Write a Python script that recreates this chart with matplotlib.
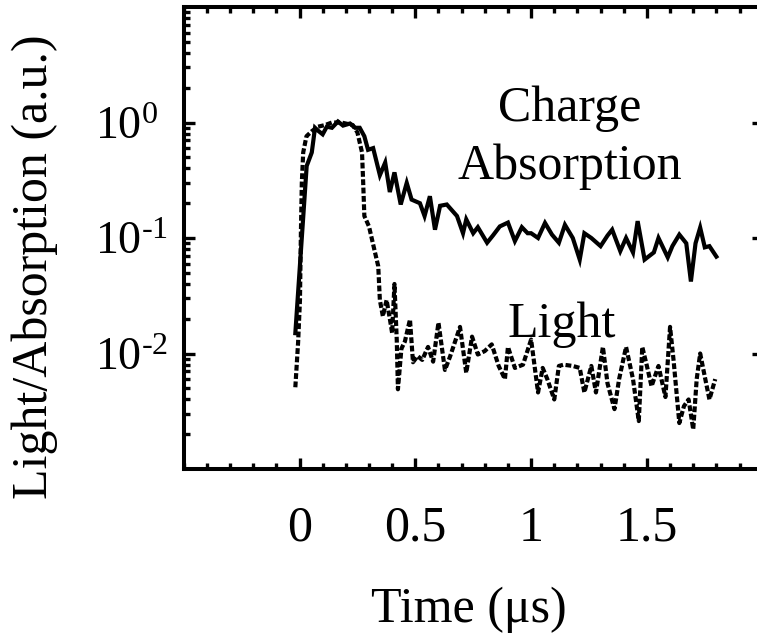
import matplotlib
matplotlib.use("Agg")
import matplotlib.pyplot as plt
from matplotlib.ticker import FixedLocator, MultipleLocator, LogLocator, NullFormatter

# ---- data ----
charge_t = [-0.018, 0.031, 0.053, 0.067, 0.080, 0.100, 0.118, 0.140, 0.166, 0.188, 0.218, 0.240, 0.260, 0.280,
            0.296, 0.318, 0.347, 0.370, 0.390, 0.410, 0.437, 0.463, 0.484, 0.520, 0.540, 0.563, 0.585, 0.607,
            0.636, 0.680, 0.706, 0.720, 0.750, 0.770, 0.810, 0.835, 0.865, 0.900, 0.930, 0.960, 0.985, 1.000,
            1.030, 1.060, 1.090, 1.120, 1.146, 1.180, 1.210, 1.230, 1.260, 1.300, 1.330, 1.350, 1.385, 1.410,
            1.440, 1.460, 1.490, 1.530, 1.550, 1.590, 1.610, 1.640, 1.670, 1.690, 1.710, 1.730, 1.750, 1.770, 1.800]
charge_v = [0.015, 0.42, 0.55, 0.90, 0.85, 0.79, 0.92, 0.90, 1.02, 0.94, 0.98, 0.90, 0.90, 0.76,
            0.58, 0.60, 0.35, 0.45, 0.25, 0.37, 0.195, 0.30, 0.215, 0.20, 0.155, 0.23, 0.118, 0.19,
            0.195, 0.155, 0.11, 0.145, 0.11, 0.124, 0.091, 0.105, 0.126, 0.136, 0.094, 0.124, 0.11, 0.11,
            0.10, 0.135, 0.107, 0.091, 0.13, 0.10, 0.065, 0.11, 0.10, 0.085, 0.105, 0.118, 0.077, 0.10,
            0.075, 0.14, 0.065, 0.075, 0.10, 0.068, 0.085, 0.107, 0.09, 0.042, 0.09, 0.123, 0.083, 0.085, 0.069]

light_t = [-0.018, -0.006, 0.002, 0.006, 0.010, 0.016, 0.030, 0.053, 0.080, 0.110, 0.140, 0.180, 0.230, 0.250,
           0.270, 0.275, 0.280, 0.300, 0.326, 0.340, 0.347, 0.360, 0.376, 0.390, 0.400, 0.410, 0.420, 0.425,
           0.440, 0.455, 0.477, 0.490, 0.510, 0.530, 0.555, 0.577, 0.600, 0.628, 0.650, 0.693, 0.720, 0.745,
           0.770, 0.800, 0.830, 0.860, 0.887, 0.900, 0.930, 0.965, 1.000, 1.030, 1.050, 1.070, 1.100, 1.120,
           1.140, 1.180, 1.210, 1.230, 1.260, 1.280, 1.310, 1.330, 1.360, 1.380, 1.410, 1.440, 1.465, 1.480,
           1.500, 1.520, 1.550, 1.580, 1.600, 1.615, 1.640, 1.660, 1.680, 1.700, 1.715, 1.730, 1.750, 1.770, 1.795]
light_v = [0.0051, 0.0125, 0.029, 0.11, 0.30, 0.55, 0.76, 0.84, 0.92, 0.95, 1.0, 1.0, 0.95, 0.82,
           0.55, 0.30, 0.155, 0.126, 0.075, 0.057, 0.029, 0.021, 0.029, 0.020, 0.015, 0.040, 0.013, 0.0049,
           0.011, 0.0127, 0.0197, 0.0084, 0.0095, 0.0088, 0.0114, 0.0085, 0.0185, 0.0072, 0.0094, 0.017, 0.0068, 0.014,
           0.0098, 0.0105, 0.012, 0.0078, 0.006, 0.0114, 0.0075, 0.008, 0.0132, 0.0046, 0.0075, 0.006, 0.004, 0.0078,
           0.008, 0.0078, 0.0075, 0.0046, 0.0078, 0.0046, 0.0114, 0.0055, 0.0033, 0.006, 0.0114, 0.006, 0.0026, 0.0114,
           0.0078, 0.0052, 0.0078, 0.0042, 0.017, 0.0088, 0.0025, 0.0035, 0.004, 0.0022, 0.006, 0.010, 0.0063, 0.004, 0.006]

x_ticks = [0, 0.5, 1, 1.5]
x_ticklabels = ["0", "0.5", "1", "1.5"]
y_ticks = [1e-2, 1e-1, 1e0]
y_ticklabels = [r"$10^{\text{-}2}$", r"$10^{\text{-}1}$", r"$10^{0}$"]

# ---- style ----
plt.rcParams["font.family"] = ["Liberation Serif", "DejaVu Serif"]
plt.rcParams["mathtext.fontset"] = "custom"
plt.rcParams["mathtext.rm"] = "Liberation Serif"
plt.rcParams["mathtext.it"] = "Liberation Serif:italic"
plt.rcParams["mathtext.bf"] = "Liberation Serif:bold"
plt.rcParams["mathtext.default"] = "regular"

W, H = 757, 636
fig = plt.figure(figsize=(W / 100, H / 100), dpi=100)
left_px, right_px, top_px, bot_px = 183.7, 762.7, 7.0, 469.0
ax = fig.add_axes([left_px / W, 1 - bot_px / H, (right_px - left_px) / W, (bot_px - top_px) / H])

ax.plot(charge_t, charge_v, color="black", lw=3.0, solid_joinstyle="miter")
ax.plot(light_t, light_v, color="black", lw=3.0, linestyle=(0, (1.4, 0.6)))

ax.set_yscale("log")
ax.set_xlim(-0.5, 2.0)
ax.set_ylim(1e-3, 1e1)

ax.xaxis.set_major_locator(FixedLocator(x_ticks))
ax.set_xticklabels(x_ticklabels)
ax.xaxis.set_minor_locator(MultipleLocator(0.1))
ax.yaxis.set_major_locator(FixedLocator(y_ticks))
ax.set_yticklabels(y_ticklabels)
ax.yaxis.set_minor_locator(LogLocator(base=10, subs=range(2, 10), numticks=20))
ax.yaxis.set_minor_formatter(NullFormatter())

for s in ax.spines.values():
    s.set_linewidth(2.9)

ax.tick_params(axis="both", which="both", direction="in", width=2.4, colors="black")
ax.tick_params(axis="both", which="major", length=8)
ax.tick_params(axis="both", which="minor", length=4.5)
ax.tick_params(axis="x", which="both", top=True, bottom=True)
ax.tick_params(axis="y", which="major", left=True, right=True)
ax.tick_params(axis="y", which="minor", left=True, right=False)
ax.tick_params(axis="x", which="major", labelsize=36, pad=26)
ax.tick_params(axis="y", which="major", labelsize=33, pad=64)
for lab in ax.get_yticklabels():
    lab.set_horizontalalignment("left")

ax.text(1.168, 10 ** ((123 - 180) / 115.5), "Charge\nAbsorption", ha="center", va="baseline",
        fontsize=36, linespacing=1.33, multialignment="center")
ax.text(1.133, 10 ** ((123 - 338) / 115.5), "Light", ha="center", va="baseline", fontsize=36)

fig.text(35 / W, 1 - 267 / H, "Light/Absorption (a.u.)", rotation=90, ha="center", va="center", fontsize=36)
fig.text(469 / W, 1 - 622 / H, "Time (μs)", ha="center", va="baseline", fontsize=36)

fig.savefig("out.png", dpi=100)
